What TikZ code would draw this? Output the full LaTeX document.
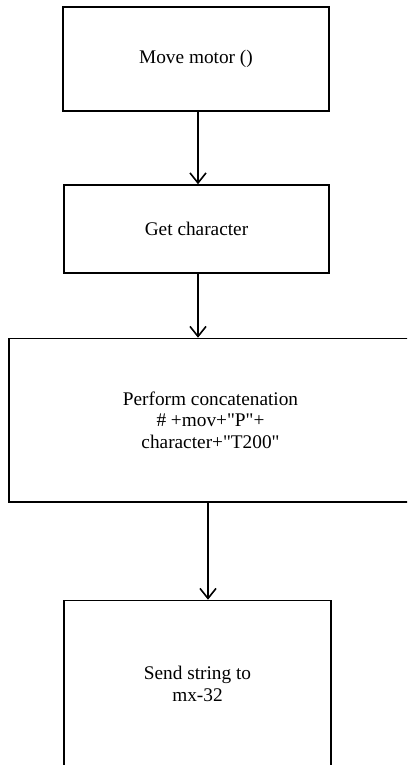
\documentclass[tikz,border=0pt]{standalone}
\usepackage{fontspec}
\setmainfont{Liberation Serif}
\usetikzlibrary{arrows.meta,positioning}

\tikzset{
  stepbox/.style={draw=black, line width=1.6pt, fill=white, align=center,
    inner sep=0pt, font=\fontsize{19.3}{21.7}\selectfont},
  flowarrow/.style={draw=black, line width=1.6pt,
    -{Straight Barb[length=10pt,width=16pt,line width=1.6pt]}}
}

\begin{document}
\begin{tikzpicture}[x=1pt,y=1pt]
  \useasboundingbox (0,0) rectangle (407,-765);
  \clip (0,0) rectangle (407,-765);

  % process steps
  \node[stepbox, minimum width=266pt, minimum height=104pt] (b1) at (196,-59) {Move motor ()};
  \node[stepbox, minimum width=265pt, minimum height=88pt] (b2) at (196.5,-229) {Get character};
  \node[stepbox, minimum width=403pt, minimum height=163.5pt] (b3) at (210.5,-420.25)
    {Perform concatenation\\\# +mov+\textquotedbl P\textquotedbl+\\character+\textquotedbl T200\textquotedbl};
  \node[stepbox, minimum width=267pt, minimum height=166.5pt] (b4) at (197.5,-683.75)
    {Send string to\\mx-32};

  % flow
  \draw[flowarrow] ([xshift=2pt]b1.south) -- ([xshift=1.5pt]b2.north);
  \draw[flowarrow] ([xshift=1.5pt]b2.south) -- ([xshift=-12.5pt]b3.north);
  \draw[flowarrow] ([xshift=-2.5pt]b3.south) -- ([xshift=10.5pt]b4.north);
\end{tikzpicture}
\end{document}
